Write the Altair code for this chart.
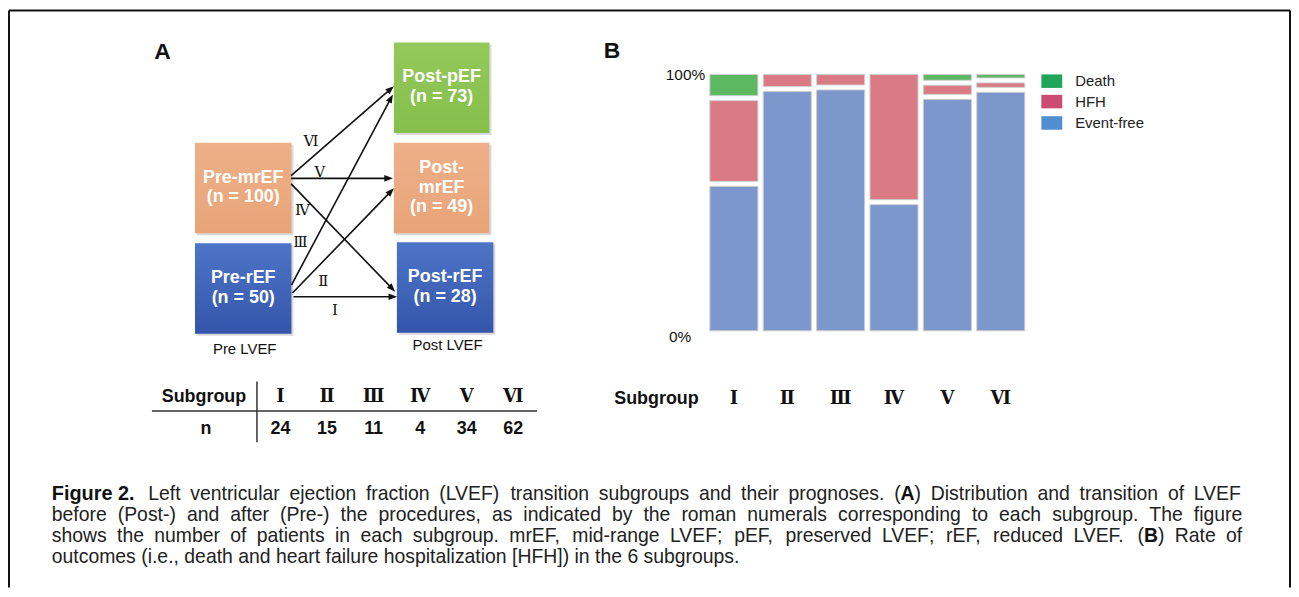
import math
import altair as alt
import pandas as pd

# ---------------- data ----------------
subgroups = ["Ⅰ", "Ⅱ", "Ⅲ", "Ⅳ", "Ⅴ", "Ⅵ"]
subgroup_n = [24, 15, 11, 4, 34, 62]
outcomes = ["Death", "HFH", "Event-free"]
death_rate = [10.0, 0.0, 0.0, 0.0, 4.1, 3.2]
hfh_rate = [32.8, 6.5, 5.9, 49.8, 5.4, 3.6]
event_free_rate = [57.2, 93.5, 94.1, 50.2, 90.5, 93.2]

pre_groups = ["Pre-mrEF", "Pre-rEF"]
pre_n = [100, 50]
post_groups = ["Post-pEF", "Post-mrEF", "Post-rEF"]
post_n = [73, 49, 28]
transition_from = ["Pre-rEF", "Pre-rEF", "Pre-rEF", "Pre-mrEF", "Pre-mrEF", "Pre-mrEF"]
transition_to = ["Post-rEF", "Post-mrEF", "Post-pEF", "Post-rEF", "Post-mrEF", "Post-pEF"]

caption_label = "Figure 2."
caption_lines = [
    "Left ventricular ejection fraction (LVEF) transition subgroups and their prognoses. (A) Distribution and transition of LVEF",
    "before (Post-) and after (Pre-) the procedures, as indicated by the roman numerals corresponding to each subgroup. The figure",
    "shows the number of patients in each subgroup. mrEF, mid-range LVEF; pEF, preserved LVEF; rEF, reduced LVEF. (B) Rate of",
    "outcomes (i.e., death and heart failure hospitalization [HFH]) in the 6 subgroups.",
]

# ---------------- layout (page pixels) ----------------
W, H = 1290, 581
X = alt.Scale(domain=[8, 8 + W], range=[0, W], zero=False, nice=False)
Y = alt.Scale(domain=[8, 8 + H], range=[0, H], zero=False, nice=False)
SANS = "Liberation Sans"
SERIF = "DejaVu Serif"

box_geom = {
    "Pre-mrEF": (196, 293, 142, 233),
    "Pre-rEF": (196, 293, 243, 334),
    "Post-pEF": (396, 492, 41, 132),
    "Post-mrEF": (396, 492, 142, 233),
    "Post-rEF": (399, 496, 242, 333),
}
box_fill = {"Pre-mrEF": "peach", "Pre-rEF": "blue", "Post-pEF": "green",
            "Post-mrEF": "peach", "Post-rEF": "blue"}
fill_style = {
    "peach": alt.LinearGradient(gradient="linear", x1=0, x2=0, y1=0, y2=1, stops=[
        alt.GradientStop(color="#eeb089", offset=0), alt.GradientStop(color="#e8a478", offset=1)]),
    "blue": alt.LinearGradient(gradient="linear", x1=0, x2=0, y1=0, y2=1, stops=[
        alt.GradientStop(color="#4d75c7", offset=0), alt.GradientStop(color="#3455ab", offset=1)]),
    "green": alt.LinearGradient(gradient="linear", x1=0, x2=0, y1=0, y2=1, stops=[
        alt.GradientStop(color="#93c95a", offset=0), alt.GradientStop(color="#86bf4c", offset=1)]),
}
box_lines = {"Post-mrEF": ["Post-", "mrEF"]}
arrow_start = [(295, 296.7), (294, 293), (293, 285), (292.7, 183.3), (292.7, 177.7), (292.7, 175)]
arrow_end = [(399.3, 296.7), (396, 187.7), (395, 93.3), (397.3, 291.7), (395, 177.7), (396, 85)]
arrow_label = [(336.7, 310), (325, 281), (302, 242), (304, 210), (321.7, 171.7), (312.7, 140)]


def xq(f):
    return alt.X(f, type="quantitative", scale=X, axis=None)


def yq(f):
    return alt.Y(f, type="quantitative", scale=Y, axis=None)


layers = []

# frame
frame = pd.DataFrame({"x": [9, 9, 1297], "x2": [9, 1297, 1297], "y": [9, 9, 9], "y2": [589, 9, 589]})
layers.append(alt.Chart(frame).mark_rule(color="#111", strokeWidth=2).encode(
    x=xq("x"), x2="x2:Q", y=yq("y"), y2="y2:Q"))

# panel letters
letters = pd.DataFrame({"t": ["A", "B"], "x": [155, 607], "y": [51, 50]})
layers.append(alt.Chart(letters).mark_text(align="left", baseline="middle", font=SANS,
                                           fontWeight="bold", fontSize=23, color="#111").encode(
    x=xq("x"), y=yq("y"), text="t:N"))

# boxes (shadow + fill)
brows = []
trows = []
for name, n in list(zip(pre_groups, pre_n)) + list(zip(post_groups, post_n)):
    x0, x1, y0, y1 = box_geom[name]
    brows.append({"name": name, "x": x0, "x2": x1, "y": y0, "y2": y1, "f": box_fill[name]})
    lines = box_lines.get(name, [name]) + [f"(n = {n})"]
    cy = (y0 + y1) / 2 - 0.5
    for i, ln in enumerate(lines):
        trows.append({"t": ln, "x": (x0 + x1) / 2, "y": cy + (i - (len(lines) - 1) / 2) * 19.5})
bdf = pd.DataFrame(brows)
sdf = bdf.copy()
sdf[["x", "x2"]] += 2
sdf[["y", "y2"]] += 2
layers.append(alt.Chart(sdf).mark_rect(color="#c9c9c9", opacity=0.7).encode(
    x=xq("x"), x2="x2:Q", y=yq("y"), y2="y2:Q"))
for fkey, grad in fill_style.items():
    layers.append(alt.Chart(bdf[bdf.f == fkey]).mark_rect(color=grad).encode(
        x=xq("x"), x2="x2:Q", y=yq("y"), y2="y2:Q"))
layers.append(alt.Chart(pd.DataFrame(trows)).mark_text(
    align="center", baseline="middle", font=SANS, fontWeight="bold", fontSize=18, color="white").encode(
    x=xq("x"), y=yq("y"), text="t:N"))

# box captions
cap = pd.DataFrame({"t": ["Pre LVEF", "Post LVEF"], "x": [246, 450], "y": [349, 345]})
layers.append(alt.Chart(cap).mark_text(align="center", baseline="middle", font=SANS,
                                       fontSize=15, color="#111").encode(
    x=xq("x"), y=yq("y"), text="t:N"))

# arrows
arows, hrows, lrows = [], [], []
for sg, s, e, lab in zip(subgroups, arrow_start, arrow_end, arrow_label):
    dx, dy = e[0] - s[0], e[1] - s[1]
    L = math.hypot(dx, dy)
    ux, uy = dx / L, dy / L
    arows.append({"x": s[0], "y": s[1], "x2": e[0] - 5 * ux, "y2": e[1] - 5 * uy})
    ang = math.degrees(math.atan2(dx, -dy)) % 360
    hrows.append({"x": e[0], "y": e[1], "a": ang})
    lrows.append({"t": sg, "x": lab[0], "y": lab[1]})
layers.append(alt.Chart(pd.DataFrame(arows)).mark_rule(color="#111", strokeWidth=1.6).encode(
    x=xq("x"), x2="x2:Q", y=yq("y"), y2="y2:Q"))
layers.append(alt.Chart(pd.DataFrame(hrows)).mark_point(
    shape="M0,0L-0.38,1L0.38,1Z", size=300, filled=True, color="#111", opacity=1).encode(
    x=xq("x"), y=yq("y"), angle=alt.Angle("a:Q", scale=None)))
layers.append(alt.Chart(pd.DataFrame(lrows)).mark_text(
    align="center", baseline="middle", font=SERIF, fontSize=15, color="#111").encode(
    x=xq("x"), y=yq("y"), text="t:N"))

# table (panel A)
tbl_x = alt.X("sg:N", scale=alt.Scale(type="point", domain=subgroups, range=[274, 508], padding=0),
              axis=None, sort=None)
tdf = pd.DataFrame({"sg": subgroups, "n": [str(v) for v in subgroup_n]})
layers.append(alt.Chart(tdf).mark_text(align="center", baseline="middle", font=SERIF, fontSize=18,
                                       fontWeight="bold", color="#111").encode(
    x=tbl_x, y=alt.value(398 - 8), text="sg:N"))
layers.append(alt.Chart(tdf).mark_text(align="center", baseline="middle", font=SANS, fontSize=18,
                                       fontWeight="bold", color="#111").encode(
    x=tbl_x, y=alt.value(430 - 8), text="n:N"))
thead = pd.DataFrame({"t": ["Subgroup", "n"], "x": [205, 207], "y": [398, 430]})
layers.append(alt.Chart(thead).mark_text(align="center", baseline="middle", font=SANS, fontSize=18,
                                         fontWeight="bold", color="#111").encode(
    x=xq("x"), y=yq("y"), text="t:N"))
tlines = pd.DataFrame({"x": [258.3, 152.7], "x2": [258.3, 540], "y": [382, 411.7], "y2": [443, 411.7]})
layers.append(alt.Chart(tlines).mark_rule(color="#333", strokeWidth=1.5).encode(
    x=xq("x"), x2="x2:Q", y=yq("y"), y2="y2:Q"))

# panel B bars
bar_color = {"Death": "#5db862", "HFH": "#d97a84", "Event-free": "#7b97cc"}
rates = {"Death": death_rate, "HFH": hfh_rate, "Event-free": event_free_rate}
stack_order = {"Event-free": 0, "HFH": 1, "Death": 2}
rows = []
for o in outcomes:
    for sg, v in zip(subgroups, rates[o]):
        rows.append({"sg": sg, "outcome": o, "pct": v, "ord": stack_order[o]})
bars = pd.DataFrame(rows)
bar_x = alt.X("sg:N", scale=alt.Scale(type="band", domain=subgroups, range=[703, 1025],
                                      paddingInner=0.1, paddingOuter=0.05), axis=None, sort=None)
bar_y = alt.Scale(domain=[0, 100], range=[325.5, 62.8], zero=False, nice=False)
layers.append(alt.Chart(bars).transform_stack(
    stack="pct", groupby=["sg"], sort=[alt.SortField("ord", order="ascending")], as_=["p0", "p1"]
).transform_filter("datum.pct > 0").mark_bar(
    stroke="#cfcfcf", strokeWidth=1, yOffset=2.5, y2Offset=-2.5
).encode(
    x=bar_x,
    y=alt.Y("p1:Q", scale=bar_y, axis=None),
    y2="p0:Q",
    color=alt.Color("outcome:N", scale=alt.Scale(domain=outcomes, range=[bar_color[o] for o in outcomes]),
                    legend=None),
))

# bar y tick labels
ticks = pd.DataFrame({"v": [100, 0], "t": ["100%", "0%"], "x": [709, 695]})
layers.append(alt.Chart(ticks).mark_text(align="right", baseline="middle", font=SANS, fontSize=15.5,
                                         dy=3.5, color="#111").encode(
    x=xq("x"), y=alt.Y("v:Q", scale=bar_y, axis=None), text="t:N"))

# bar subgroup labels
layers.append(alt.Chart(pd.DataFrame({"sg": subgroups})).mark_text(
    align="center", baseline="middle", font=SERIF, fontSize=18, fontWeight="bold", color="#111").encode(
    x=bar_x, y=alt.value(400 - 8), text="sg:N"))
layers.append(alt.Chart(pd.DataFrame({"t": ["Subgroup"], "x": [660], "y": [400]})).mark_text(
    align="center", baseline="middle", font=SANS, fontSize=18, fontWeight="bold", color="#111").encode(
    x=xq("x"), y=yq("y"), text="t:N"))

# legend
legend_color = {"Death": "#21a55b", "HFH": "#cb4b72", "Event-free": "#4f8ecf"}
lg = pd.DataFrame({"o": outcomes, "y": [80, 100.5, 122]})
lg["c"] = lg["o"].map(legend_color)
lg["x"], lg["x2"] = 1047, 1068
lg["y0"], lg["y1"] = lg["y"] - 6.8, lg["y"] + 6.8
layers.append(alt.Chart(lg).mark_rect().encode(
    x=xq("x"), x2="x2:Q", y=yq("y0"), y2="y1:Q", color=alt.Color("c:N", scale=None)))
layers.append(alt.Chart(lg).mark_text(align="left", baseline="middle", font=SANS, fontSize=15,
                                      color="#222").encode(
    x=alt.value(1081 - 8), y=yq("y"), text="o:N"))

# caption: justified text, word by word (Helvetica/Arial advance widths, 1/1000 em)
HELV = {" ": 278, "(": 333, ")": 333, ",": 278, "-": 333, ".": 278, ";": 278, "[": 278, "]": 278}
HELV.update({d: 556 for d in "0123456789"})
HELV.update(dict(zip("ABCDEFGHIJKLMNOPQRSTUVWXYZ",
                     [667, 667, 722, 722, 667, 611, 778, 722, 278, 500, 667, 556, 833, 722, 778, 667,
                      778, 722, 667, 611, 722, 667, 944, 667, 667, 611])))
HELV.update(dict(zip("abcdefghijklmnopqrstuvwxyz",
                     [556, 556, 500, 556, 556, 278, 556, 556, 222, 222, 500, 222, 833, 556, 556, 556,
                      556, 333, 500, 278, 556, 500, 722, 500, 500, 500])))
HELV_BOLD = {"A": 722, "B": 722}
CAP_FS = 19.5
CAP_LEFT = 52
CAP_RIGHT = 1249
cap_start = [149, CAP_LEFT, CAP_LEFT, CAP_LEFT]
cap_y = [495, 516, 537, 558]


def pieces(word):
    # split "(A)" / "(B)" so that the letter can be bold
    if len(word) == 3 and word[0] == "(" and word[2] == ")" and word[1] in HELV_BOLD:
        return [("(", "normal"), (word[1], "bold"), (")", "normal")]
    return [(word, "normal")]


def pwidth(txt, wt):
    tab = HELV_BOLD if wt == "bold" else HELV
    return sum(tab.get(ch, HELV.get(ch, 556)) for ch in txt) * CAP_FS / 1000


crow = []
for li, line in enumerate(caption_lines):
    words = line.split(" ")
    wp = [pieces(w) for w in words]
    ww = [sum(pwidth(t, wt) for t, wt in p) for p in wp]
    if li < len(caption_lines) - 1:
        gap = (CAP_RIGHT - cap_start[li] - sum(ww)) / (len(words) - 1)
    else:
        gap = HELV[" "] * CAP_FS / 1000
    x = cap_start[li]
    for p, w in zip(wp, ww):
        px = x
        for t, wt in p:
            crow.append({"t": t, "x": px, "y": cap_y[li], "wt": wt})
            px += pwidth(t, wt)
        x += w + gap
cdf = pd.DataFrame(crow)
layers.append(alt.Chart(cdf[cdf.wt == "normal"]).mark_text(
    align="left", baseline="middle", font=SANS, fontSize=CAP_FS, color="#222").encode(
    x=xq("x"), y=yq("y"), text="t:N"))
layers.append(alt.Chart(cdf[cdf.wt == "bold"]).mark_text(
    align="left", baseline="middle", font=SANS, fontWeight="bold", fontSize=CAP_FS, color="#111").encode(
    x=xq("x"), y=yq("y"), text="t:N"))
layers.append(alt.Chart(pd.DataFrame({"t": [caption_label], "x": [CAP_LEFT], "y": [cap_y[0]]})).mark_text(
    align="left", baseline="middle", font=SANS, fontWeight="bold", fontSize=CAP_FS + 0.5,
    color="#111").encode(x=xq("x"), y=yq("y"), text="t:N"))

chart = alt.layer(*layers).resolve_scale(
    x="independent", y="independent", color="independent"
).properties(
    width=W, height=H, padding=0, autosize=alt.AutoSizeParams(type="none")
).configure_view(stroke=None)

chart.save("out.html", embed_options={"renderer": "svg", "actions": False})
